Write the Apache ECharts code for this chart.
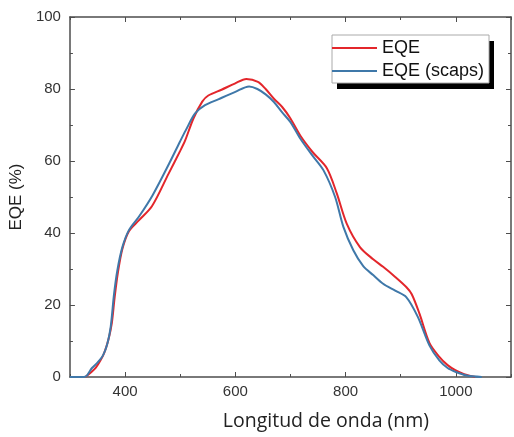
<!DOCTYPE html>
<html>
<head>
<meta charset="utf-8">
<script src="https://cdn.jsdelivr.net/npm/echarts@6/dist/echarts.min.js"></script>
<style>
  html, body { margin: 0; padding: 0; background: #fff; }
  #chart { width: 514px; height: 437px; }
</style>
</head>
<body>
<div id="chart"></div>
<script>
// measured EQE (red)
const eqeNm  = [328, 340, 347, 355, 362, 370, 376, 381, 387, 395, 407, 425, 449, 479, 500, 509, 524, 540, 551, 575, 599, 620, 641, 655, 670, 685, 700, 718, 740, 766, 784, 802, 826, 850, 868, 890, 910, 920, 934, 952, 970, 985, 999, 1015, 1035];
const eqeVal = [0, 1.5, 2.6, 4.5, 6.6, 10.5, 15, 22, 29, 35.5, 40.5, 43.5, 47.5, 56.5, 62.8, 65.7, 71.8, 76.5, 78.2, 79.8, 81.5, 82.8, 82, 80, 77.3, 75, 71.8, 67, 62.5, 58, 51, 42.6, 36.1, 32.7, 30.6, 27.8, 25, 23, 17.6, 9.5, 5.6, 3.3, 1.9, 0.8, 0];

// simulated EQE (scaps, blue)
const scapsNm  = [300, 320, 330, 340, 350, 360, 368, 374, 380, 386, 395, 407, 425, 450, 480, 500, 510, 527, 545, 570, 600, 625, 640, 655, 670, 685, 700, 718, 740, 760, 781, 796, 814, 832, 850, 868, 890, 910, 931, 952, 970, 985, 1000, 1020, 1047];
const scapsVal = [0, 0, 0.3, 2.5, 4, 6, 9.3, 14, 23, 29.6, 36, 40.8, 44.5, 50.5, 59.3, 65.5, 68.5, 73.2, 75.5, 77.2, 79.2, 80.7, 80, 78.5, 76.4, 73.5, 70.8, 66.2, 61.5, 57.4, 50, 41.7, 35.2, 30.8, 28.3, 25.9, 24, 22.2, 16.7, 8.8, 4.6, 2.5, 1.4, 0.4, 0];

const xMajor = [400, 600, 800, 1000];
const seriesNames = ['EQE', 'EQE (scaps)'];
const seriesColors = ['#e3262b', '#3f78a9'];

const chart = echarts.init(document.getElementById('chart'), null, {renderer: 'canvas'});

const axisColor = '#4d4d4d';
const labelFont = 'Liberation Sans';

const frameLine = {show: true, lineStyle: {color: axisColor, width: 1.5}};

function xAxisPair(position, withLabels) {
    return [
        {
            type: 'value',
            position: position,
            min: 300,
            max: 1100,
            interval: 100,
            axisLine: frameLine,
            splitLine: {show: false},
            axisTick: {show: true, inside: true, length: 3, lineStyle: {color: axisColor, width: 1}},
            axisLabel: {
                show: withLabels,
                margin: 7,
                fontFamily: labelFont,
                fontSize: 15,
                color: '#333',
                formatter: (v) => (v % 200 === 0 ? String(v) : '')
            },
            name: withLabels ? 'Longitud de onda (nm)' : '',
            nameLocation: 'middle',
            nameGap: 34,
            nameTextStyle: {
                fontFamily: 'Open Sans',
                fontSize: 19.5,
                color: '#222',
                padding: [0, 0, 0, 71]
            }
        },
        {
            type: 'value',
            position: position,
            min: 300,
            max: 1100,
            axisLine: {show: false},
            splitLine: {show: false},
            axisTick: {show: true, inside: true, length: 5, customValues: xMajor, lineStyle: {color: axisColor, width: 1}},
            axisLabel: {show: false}
        }
    ];
}

function yAxisFor(position, withLabels) {
    return {
        type: 'value',
        position: position,
        min: 0,
        max: 100,
        interval: 20,
        axisLine: frameLine,
        splitLine: {show: false},
        axisTick: {show: true, inside: true, length: 5, lineStyle: {color: axisColor, width: 1}},
        minorTick: {show: true, splitNumber: 2, length: 3, lineStyle: {color: axisColor, width: 1}},
        axisLabel: {
            show: withLabels,
            margin: 9,
            fontFamily: labelFont,
            fontSize: 15,
            color: '#333'
        },
        name: withLabels ? 'EQE (%)' : '',
        nameLocation: 'middle',
        nameGap: 43,
        nameTextStyle: {
            fontFamily: labelFont,
            fontSize: 17,
            color: '#222'
        }
    };
}

// legend frame with its hard black drop shadow
const legendBox = {x: 332, y: 35, w: 157, h: 48};

const option = {
    animation: false,
    backgroundColor: '#fff',
    grid: {left: 67, right: 2, top: 17, bottom: 60},
    xAxis: [].concat(xAxisPair('bottom', true), xAxisPair('top', false)),
    yAxis: [yAxisFor('left', true), yAxisFor('right', false)],
    graphic: [
        {
            type: 'rect',
            z: 10,
            shape: {x: legendBox.x + 5, y: legendBox.y + 6, width: legendBox.w, height: legendBox.h},
            style: {fill: '#000'}
        },
        {
            type: 'rect',
            z: 11,
            shape: {x: legendBox.x, y: legendBox.y, width: legendBox.w, height: legendBox.h},
            style: {fill: '#fff', stroke: '#aaa', lineWidth: 1}
        }
    ],
    legend: {
        z: 20,
        orient: 'vertical',
        left: legendBox.x,
        top: legendBox.y,
        padding: [3, 4, 2, 0],
        itemGap: 3,
        itemWidth: 45,
        itemHeight: 2,
        icon: 'rect',
        textStyle: {
            fontFamily: labelFont,
            fontSize: 18,
            lineHeight: 20,
            color: '#111'
        },
        data: seriesNames
    },
    series: [
        {
            name: seriesNames[0],
            type: 'line',
            xAxisIndex: 0,
            yAxisIndex: 0,
            symbol: 'none',
            smooth: 0.3,
            lineStyle: {color: seriesColors[0], width: 2},
            itemStyle: {color: seriesColors[0]},
            data: eqeNm.map((x, i) => [x, eqeVal[i]])
        },
        {
            name: seriesNames[1],
            type: 'line',
            xAxisIndex: 0,
            yAxisIndex: 0,
            symbol: 'none',
            smooth: 0.3,
            lineStyle: {color: seriesColors[1], width: 2},
            itemStyle: {color: seriesColors[1]},
            data: scapsNm.map((x, i) => [x, scapsVal[i]])
        }
    ]
};

chart.setOption(option);
</script>
</body>
</html>
